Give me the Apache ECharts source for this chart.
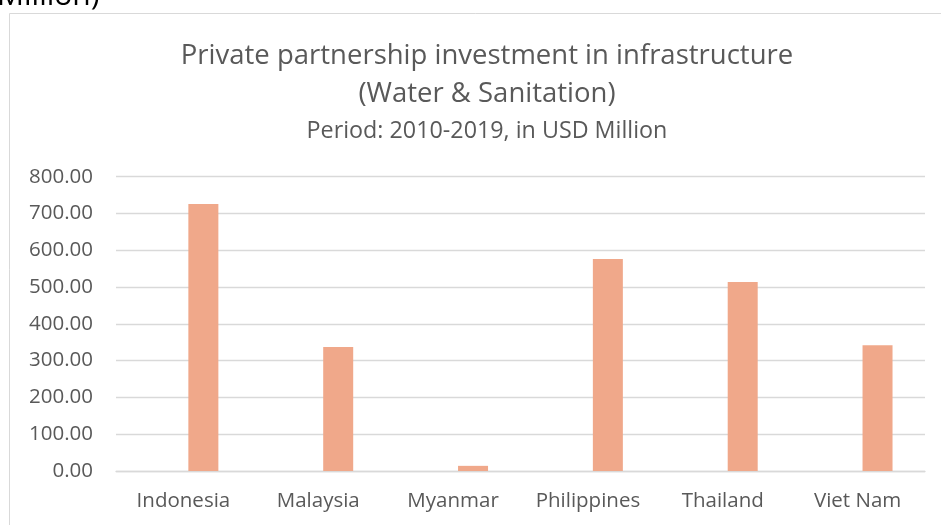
<!DOCTYPE html>
<html>
<head>
<meta charset="utf-8">
<script src="https://cdn.jsdelivr.net/npm/echarts@6/dist/echarts.min.js"></script>
<style>
html,body{margin:0;padding:0;background:#fff;}
#chart{width:941px;height:525px;}
</style>
</head>
<body>
<div id="chart"></div>
<script>
const categories = ['Indonesia', 'Malaysia', 'Myanmar', 'Philippines', 'Thailand', 'Viet Nam'];
const investment = [726, 337, 14, 576, 514, 342];
const placeholder = [null, null, null, null, null, null];
const titleLine1 = 'Private partnership investment in infrastructure';
const titleLine2 = '(Water & Sanitation)';
const subtitle = 'Period: 2010-2019, in USD Million';
const clippedText = 'Million)';

const FONT = '"Open Sans", sans-serif';
const chart = echarts.init(document.getElementById('chart'));
chart.setOption({
  animation: false,
  backgroundColor: '#ffffff',
  graphic: [
    { type: 'rect', shape: { x: 9.5, y: 13.5, width: 960, height: 540 },
      style: { fill: 'none', stroke: '#d9d9d9', lineWidth: 1 }, silent: true },
    { type: 'text', x: -3, y: 11, silent: true,
      style: { text: clippedText, font: '30px ' + FONT, fill: '#000000', textVerticalAlign: 'bottom' } }
  ],
  title: [
    { text: titleLine1, left: 482, top: 37, textAlign: 'center',
      textStyle: { fontFamily: FONT, fontSize: 27.5, fontWeight: 'normal', color: '#595959' } },
    { text: titleLine2, left: 482, top: 75, textAlign: 'center',
      textStyle: { fontFamily: FONT, fontSize: 27.5, fontWeight: 'normal', color: '#595959' } },
    { text: subtitle, left: 482, top: 115, textAlign: 'center',
      textStyle: { fontFamily: FONT, fontSize: 23.3, fontWeight: 'normal', color: '#595959' } }
  ],
  grid: { left: 116, right: 16, top: 176.7, bottom: 54, containLabel: false },
  xAxis: {
    type: 'category',
    data: categories,
    axisLine: { show: true, lineStyle: { color: '#d9d9d9', width: 1.3 } },
    axisTick: { show: false },
    axisLabel: { color: '#595959', fontFamily: FONT, fontSize: 20.5, margin: 20, interval: 0 }
  },
  yAxis: {
    type: 'value',
    min: 0, max: 800, interval: 100,
    axisLine: { show: false },
    axisTick: { show: false },
    axisLabel: { color: '#595959', fontFamily: FONT, fontSize: 20.5, margin: 23,
      formatter: v => v.toFixed(2) },
    splitLine: { lineStyle: { color: '#d9d9d9', width: 1.3 } }
  },
  series: [
    { type: 'bar', data: placeholder, barWidth: 30, barGap: '33%' },
    { type: 'bar', data: investment, barWidth: 30, barGap: '33%',
      itemStyle: { color: '#F0A88A' } }
  ]
});
</script>
</body>
</html>
